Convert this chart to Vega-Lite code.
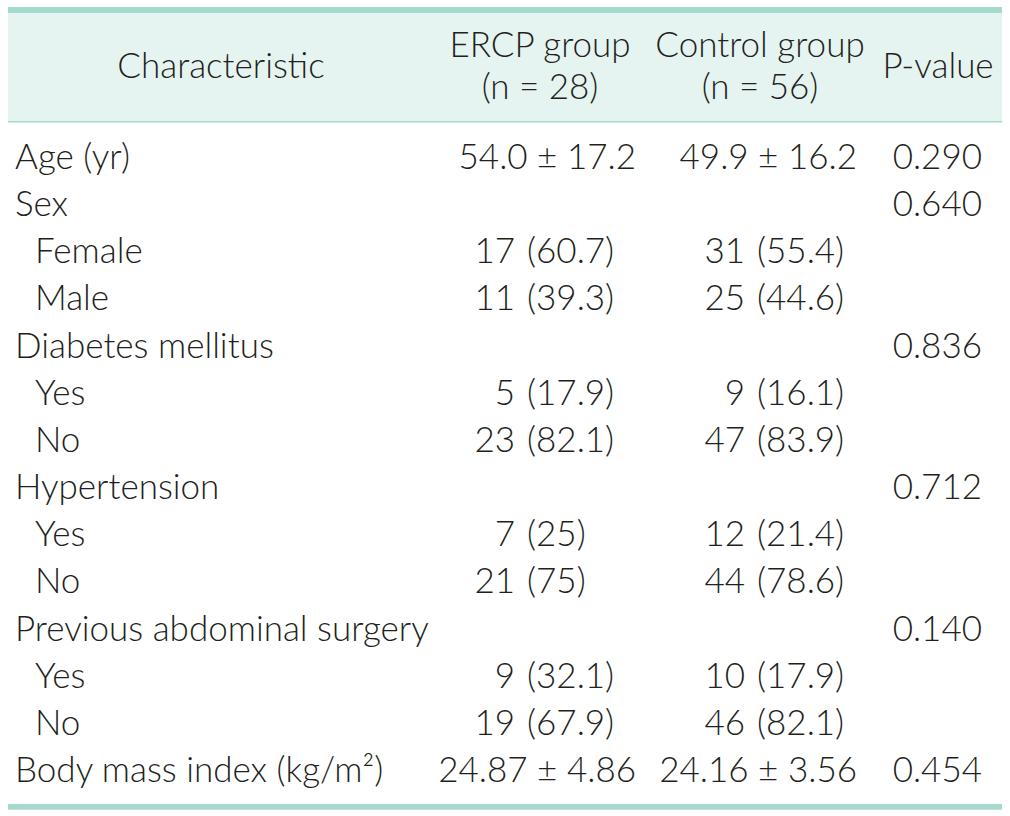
{
  "$schema": "https://vega.github.io/schema/vega-lite/v6.json",
  "width": 1010,
  "height": 816,
  "autosize": {"type": "none"},
  "padding": 0,
  "background": "white",
  "config": {
    "view": {"stroke": null},
    "text": {"font": "Lato", "fontSize": 35, "fontWeight": 300, "color": "#231f20", "baseline": "middle"}
  },
  "datasets": {
    "header": [
      {"col": "Characteristic", "t": "Characteristic"},
      {"col": "ERCP", "t": ["ERCP group", "(n = 28)"]},
      {"col": "Control", "t": ["Control group", "(n = 56)"]},
      {"col": "P", "t": "P-value"}
    ],
    "rows": [
      {"r": 1, "label": "Age (yr)", "level": 0, "ercp": "54.0 ± 17.2", "control": "49.9 ± 16.2", "p": "0.290"},
      {"r": 2, "label": "Sex", "level": 0, "p": "0.640"},
      {"r": 3, "label": "Female", "level": 1, "ercp_n": "17", "ercp_pct": "(60.7)", "control_n": "31", "control_pct": "(55.4)"},
      {"r": 4, "label": "Male", "level": 1, "ercp_n": "11", "ercp_pct": "(39.3)", "control_n": "25", "control_pct": "(44.6)"},
      {"r": 5, "label": "Diabetes mellitus", "level": 0, "p": "0.836"},
      {"r": 6, "label": "Yes", "level": 1, "ercp_n": "5", "ercp_pct": "(17.9)", "control_n": "9", "control_pct": "(16.1)"},
      {"r": 7, "label": "No", "level": 1, "ercp_n": "23", "ercp_pct": "(82.1)", "control_n": "47", "control_pct": "(83.9)"},
      {"r": 8, "label": "Hypertension", "level": 0, "p": "0.712"},
      {"r": 9, "label": "Yes", "level": 1, "ercp_n": "7", "ercp_pct": "(25)", "control_n": "12", "control_pct": "(21.4)"},
      {"r": 10, "label": "No", "level": 1, "ercp_n": "21", "ercp_pct": "(75)", "control_n": "44", "control_pct": "(78.6)"},
      {"r": 11, "label": "Previous abdominal surgery", "level": 0, "p": "0.140"},
      {"r": 12, "label": "Yes", "level": 1, "ercp_n": "9", "ercp_pct": "(32.1)", "control_n": "10", "control_pct": "(17.9)"},
      {"r": 13, "label": "No", "level": 1, "ercp_n": "19", "ercp_pct": "(67.9)", "control_n": "46", "control_pct": "(82.1)"},
      {"r": 14, "label": "Body mass index (kg/m²)", "level": 0, "ercp": "24.87 ± 4.86", "control": "24.16 ± 3.56", "p": "0.454"}
    ]
  },
  "layer": [
    {
      "data": {"values": [{}]},
      "mark": {"type": "rect", "fill": "#e6f4f1"},
      "encoding": {
        "x": {"datum": 8, "type": "quantitative", "scale": {"domain": [0, 1010], "nice": false, "zero": false}, "axis": null},
        "x2": {"datum": 1002},
        "y": {"datum": -2.075, "type": "quantitative", "scale": {"domain": [-2.351, 14.955], "reverse": true, "nice": false, "zero": false}, "axis": null},
        "y2": {"datum": 0.215}
      }
    },
    {
      "data": {"values": [{}]},
      "mark": {"type": "rect", "fill": "#a6d9cd"},
      "encoding": {
        "x": {"datum": 8, "type": "quantitative", "scale": {"domain": [0, 1010], "nice": false, "zero": false}, "axis": null},
        "x2": {"datum": 1002},
        "y": {"datum": -2.202, "type": "quantitative", "scale": {"domain": [-2.351, 14.955], "reverse": true, "nice": false, "zero": false}, "axis": null},
        "y2": {"datum": -2.075}
      }
    },
    {
      "data": {"values": [{}]},
      "mark": {"type": "rect", "fill": "#a6d9cd"},
      "encoding": {
        "x": {"datum": 8, "type": "quantitative", "scale": {"domain": [0, 1010], "nice": false, "zero": false}, "axis": null},
        "x2": {"datum": 1002},
        "y": {"datum": 0.215, "type": "quantitative", "scale": {"domain": [-2.351, 14.955], "reverse": true, "nice": false, "zero": false}, "axis": null},
        "y2": {"datum": 0.247}
      }
    },
    {
      "data": {"values": [{}]},
      "mark": {"type": "rect", "fill": "#a6d9cd"},
      "encoding": {
        "x": {"datum": 8, "type": "quantitative", "scale": {"domain": [0, 1010], "nice": false, "zero": false}, "axis": null},
        "x2": {"datum": 1002},
        "y": {"datum": 14.70, "type": "quantitative", "scale": {"domain": [-2.351, 14.955], "reverse": true, "nice": false, "zero": false}, "axis": null},
        "y2": {"datum": 14.82}
      }
    },
    {
      "data": {"name": "header"},
      "transform": [{"filter": "datum.col === 'Characteristic'"}],
      "mark": {"type": "text", "align": "center"},
      "encoding": {
        "x": {"datum": 221, "type": "quantitative", "scale": {"domain": [0, 1010], "nice": false, "zero": false}, "axis": null},
        "y": {"datum": -0.93, "type": "quantitative", "scale": {"domain": [-2.351, 14.955], "reverse": true, "nice": false, "zero": false}, "axis": null},
        "text": {"field": "t"}
      }
    },
    {
      "data": {"name": "header"},
      "transform": [{"filter": "datum.col === 'ERCP'"}],
      "mark": {"type": "text", "align": "center", "lineHeight": 42},
      "encoding": {
        "x": {"datum": 540, "type": "quantitative", "scale": {"domain": [0, 1010], "nice": false, "zero": false}, "axis": null},
        "y": {"datum": -1.375, "type": "quantitative", "scale": {"domain": [-2.351, 14.955], "reverse": true, "nice": false, "zero": false}, "axis": null},
        "text": {"field": "t"}
      }
    },
    {
      "data": {"name": "header"},
      "transform": [{"filter": "datum.col === 'Control'"}],
      "mark": {"type": "text", "align": "center", "lineHeight": 42},
      "encoding": {
        "x": {"datum": 760, "type": "quantitative", "scale": {"domain": [0, 1010], "nice": false, "zero": false}, "axis": null},
        "y": {"datum": -1.375, "type": "quantitative", "scale": {"domain": [-2.351, 14.955], "reverse": true, "nice": false, "zero": false}, "axis": null},
        "text": {"field": "t"}
      }
    },
    {
      "data": {"name": "header"},
      "transform": [{"filter": "datum.col === 'P'"}],
      "mark": {"type": "text", "align": "center"},
      "encoding": {
        "x": {"datum": 938, "type": "quantitative", "scale": {"domain": [0, 1010], "nice": false, "zero": false}, "axis": null},
        "y": {"datum": -0.93, "type": "quantitative", "scale": {"domain": [-2.351, 14.955], "reverse": true, "nice": false, "zero": false}, "axis": null},
        "text": {"field": "t"}
      }
    },
    {
      "data": {"name": "rows"},
      "transform": [{"filter": "datum.level === 0"}],
      "mark": {"type": "text", "align": "left"},
      "encoding": {
        "x": {"datum": 15, "type": "quantitative", "scale": {"domain": [0, 1010], "nice": false, "zero": false}, "axis": null},
        "y": {"field": "r", "type": "quantitative", "scale": {"domain": [-2.351, 14.955], "reverse": true, "nice": false, "zero": false}, "axis": null},
        "text": {"field": "label"}
      }
    },
    {
      "data": {"name": "rows"},
      "transform": [{"filter": "datum.level === 1"}],
      "mark": {"type": "text", "align": "left"},
      "encoding": {
        "x": {"datum": 35, "type": "quantitative", "scale": {"domain": [0, 1010], "nice": false, "zero": false}, "axis": null},
        "y": {"field": "r", "type": "quantitative", "scale": {"domain": [-2.351, 14.955], "reverse": true, "nice": false, "zero": false}, "axis": null},
        "text": {"field": "label"}
      }
    },
    {
      "data": {"name": "rows"},
      "transform": [{"filter": "datum.ercp"}],
      "mark": {"type": "text", "align": "right"},
      "encoding": {
        "x": {"datum": 636, "type": "quantitative", "scale": {"domain": [0, 1010], "nice": false, "zero": false}, "axis": null},
        "y": {"field": "r", "type": "quantitative", "scale": {"domain": [-2.351, 14.955], "reverse": true, "nice": false, "zero": false}, "axis": null},
        "text": {"field": "ercp"}
      }
    },
    {
      "data": {"name": "rows"},
      "transform": [{"filter": "datum.control"}],
      "mark": {"type": "text", "align": "right"},
      "encoding": {
        "x": {"datum": 857, "type": "quantitative", "scale": {"domain": [0, 1010], "nice": false, "zero": false}, "axis": null},
        "y": {"field": "r", "type": "quantitative", "scale": {"domain": [-2.351, 14.955], "reverse": true, "nice": false, "zero": false}, "axis": null},
        "text": {"field": "control"}
      }
    },
    {
      "data": {"name": "rows"},
      "transform": [{"filter": "datum.ercp_n"}],
      "mark": {"type": "text", "align": "right"},
      "encoding": {
        "x": {"datum": 515, "type": "quantitative", "scale": {"domain": [0, 1010], "nice": false, "zero": false}, "axis": null},
        "y": {"field": "r", "type": "quantitative", "scale": {"domain": [-2.351, 14.955], "reverse": true, "nice": false, "zero": false}, "axis": null},
        "text": {"field": "ercp_n"}
      }
    },
    {
      "data": {"name": "rows"},
      "transform": [{"filter": "datum.ercp_pct"}],
      "mark": {"type": "text", "align": "left"},
      "encoding": {
        "x": {"datum": 527, "type": "quantitative", "scale": {"domain": [0, 1010], "nice": false, "zero": false}, "axis": null},
        "y": {"field": "r", "type": "quantitative", "scale": {"domain": [-2.351, 14.955], "reverse": true, "nice": false, "zero": false}, "axis": null},
        "text": {"field": "ercp_pct"}
      }
    },
    {
      "data": {"name": "rows"},
      "transform": [{"filter": "datum.control_n"}],
      "mark": {"type": "text", "align": "right"},
      "encoding": {
        "x": {"datum": 745, "type": "quantitative", "scale": {"domain": [0, 1010], "nice": false, "zero": false}, "axis": null},
        "y": {"field": "r", "type": "quantitative", "scale": {"domain": [-2.351, 14.955], "reverse": true, "nice": false, "zero": false}, "axis": null},
        "text": {"field": "control_n"}
      }
    },
    {
      "data": {"name": "rows"},
      "transform": [{"filter": "datum.control_pct"}],
      "mark": {"type": "text", "align": "left"},
      "encoding": {
        "x": {"datum": 757, "type": "quantitative", "scale": {"domain": [0, 1010], "nice": false, "zero": false}, "axis": null},
        "y": {"field": "r", "type": "quantitative", "scale": {"domain": [-2.351, 14.955], "reverse": true, "nice": false, "zero": false}, "axis": null},
        "text": {"field": "control_pct"}
      }
    },
    {
      "data": {"name": "rows"},
      "transform": [{"filter": "datum.p"}],
      "mark": {"type": "text", "align": "right"},
      "encoding": {
        "x": {"datum": 982, "type": "quantitative", "scale": {"domain": [0, 1010], "nice": false, "zero": false}, "axis": null},
        "y": {"field": "r", "type": "quantitative", "scale": {"domain": [-2.351, 14.955], "reverse": true, "nice": false, "zero": false}, "axis": null},
        "text": {"field": "p"}
      }
    }
  ]
}
